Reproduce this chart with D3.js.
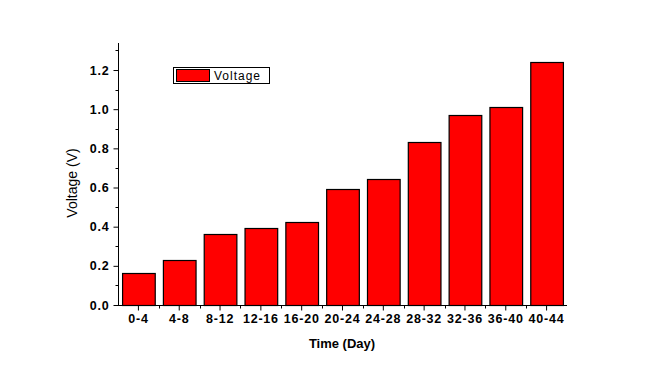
<!DOCTYPE html>
<html lang="en">
<head>
<meta charset="UTF-8">
<title>Voltage</title>
<script src="https://d3js.org/d3.v7.min.js"></script>
<style>
body{margin:0;background:#fff;}
svg{display:block;}
text{font-family:"Liberation Sans",Arial,sans-serif;fill:#000;}
.tick text{font-size:12.5px;font-weight:bold;letter-spacing:0.8px;}
.axis path,.axis line{stroke:#000;stroke-width:1;}
</style>
</head>
<body>
<svg id="chart" width="659" height="366"></svg>
<script>
const categories = ["0-4","4-8","8-12","12-16","16-20","20-24","24-28","28-32","32-36","36-40","40-44"];
const voltage = [0.162, 0.23, 0.363, 0.393, 0.424, 0.592, 0.643, 0.832, 0.97, 1.01, 1.24];
const yTicks = [0, 0.2, 0.4, 0.6, 0.8, 1.0, 1.2];

const svg = d3.select("#chart");
const mLeft = 118, mRight = 567, mTop = 43, mBottom = 305;

const x = d3.scaleBand().domain(categories).range([mLeft, mRight]).paddingInner(0.2).paddingOuter(0.1);
const y = d3.scaleLinear().domain([0, 1.338]).range([mBottom, mTop]);

// bars
svg.append("g").selectAll("rect")
  .data(categories.map((c,i)=>({c, v:voltage[i]})))
  .join("rect")
  .attr("x", d=>x(d.c)+0.5)
  .attr("y", d=>Math.round(y(d.v))+0.5)
  .attr("width", x.bandwidth())
  .attr("height", d=>mBottom-Math.round(y(d.v)))
  .attr("fill","#ff0000")
  .attr("stroke","#000")
  .attr("stroke-width",1.2);

// y axis
const yAxis = svg.append("g").attr("class","axis").attr("transform",`translate(${mLeft+0.5},0)`)
  .call(d3.axisLeft(y).tickValues(yTicks).tickFormat(d3.format(".1f")).tickSize(5).tickSizeOuter(0));
yAxis.select(".domain").attr("d",`M0,${mTop}V${mBottom}`);
yAxis.selectAll(".tick text").attr("x",-9);
// minor y ticks
svg.append("g").attr("class","axis").selectAll("line")
  .data(d3.range(0.1, 1.35, 0.2))
  .join("line")
  .attr("x1",mLeft+0.5).attr("x2",mLeft-2.5)
  .attr("y1",d=>Math.round(y(d))+0.5).attr("y2",d=>Math.round(y(d))+0.5);

// x axis
const xAxis = svg.append("g").attr("class","axis").attr("transform",`translate(0,${mBottom+0.5})`)
  .call(d3.axisBottom(x).tickSize(5).tickSizeOuter(0));
xAxis.select(".domain").attr("d",`M${mLeft},0H${mRight}`);
xAxis.selectAll(".tick text").attr("y",9);
// minor x ticks at band boundaries
const step = x.step();
svg.append("g").attr("class","axis").selectAll("line")
  .data(categories.slice(1))
  .join("line")
  .attr("x1",d=>Math.round(x(d)-step*x.paddingInner()/2)+0.5)
  .attr("x2",d=>Math.round(x(d)-step*x.paddingInner()/2)+0.5)
  .attr("y1",mBottom+0.5).attr("y2",mBottom+3.5);

// axis titles
svg.append("text")
  .attr("transform","translate(77,183) rotate(-90)")
  .attr("text-anchor","middle")
  .style("font-size","14px")
  .text("Voltage (V)");
svg.append("text")
  .attr("x",342).attr("y",348)
  .attr("text-anchor","middle")
  .style("font-size","13px").style("font-weight","bold")
  .text("Time (Day)");

// legend
const lg = svg.append("g");
lg.append("rect").attr("x",173.5).attr("y",67.5).attr("width",96).attr("height",16)
  .attr("fill","#fff").attr("stroke","#000");
lg.append("rect").attr("x",176.5).attr("y",69.5).attr("width",33).attr("height",12)
  .attr("fill","#ff0000").attr("stroke","#000");
lg.append("text").attr("x",214).attr("y",80)
  .style("font-size","12px").style("letter-spacing","1px")
  .text("Voltage");
</script>
</body>
</html>
